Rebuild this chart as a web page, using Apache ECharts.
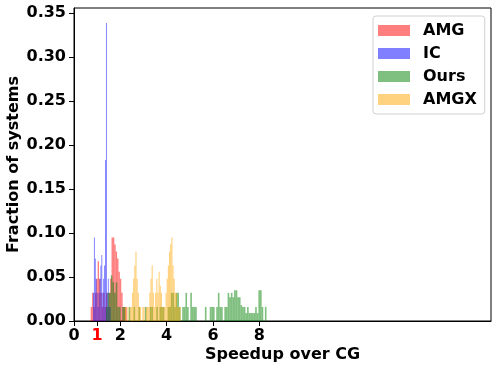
<!DOCTYPE html>
<html>
<head>
<meta charset="utf-8">
<script src="https://cdn.jsdelivr.net/npm/echarts@6/dist/echarts.min.js"></script>
<style>
  html, body { margin: 0; padding: 0; background: #fff; }
  #chart { width: 499px; height: 371px; }
</style>
</head>
<body>
<div id="chart"></div>
<script>
// histogram bins: first edge, bin width, fraction per bin
var amgStart = 0.72, amgWidth = 0.06;
var amgHeights = [0.016, 0.032, 0.016, 0.032, 0.048, 0.068, 0.048, 0.032, 0.016, 0.032, 0.016, 0.032, 0.016,
    0.032, 0.048, 0.095, 0.095, 0.087, 0.079, 0.071, 0.056, 0.048, 0.032, 0.016, 0.016, 0.016];

var icStart = 0.82, icWidth = 0.04;
var icHeights = [0.032, 0.095, 0.071, 0.048, 0.032, 0.016, 0.032, 0.048, 0.063, 0.075, 0.032, 0.048, 0.063,
    0.183, 0.339, 0.032, 0.048, 0.016, 0.016];

var oursStart = 1.38, oursWidth = 0.07;
var oursHeights = [0.016, 0.032, 0.032, 0.052, 0.044, 0.032, 0.044, 0.016, 0.016, 0, 0.016, 0.016, 0, 0,
    0.016, 0, 0, 0.016, 0, 0, 0.016, 0, 0, 0, 0.016, 0, 0, 0.016, 0.016, 0, 0, 0.016, 0, 0.016, 0.016, 0.016,
    0, 0, 0.016, 0.016, 0.032, 0.032, 0.016, 0.032, 0.032, 0.016, 0, 0.016, 0.016, 0.032, 0.016, 0, 0.032,
    0.016, 0.016, 0.016, 0, 0, 0, 0, 0, 0.016, 0, 0, 0.016, 0.016, 0.016, 0, 0.016, 0.032, 0.016, 0.016, 0,
    0.016, 0.016, 0.032, 0.027, 0.032, 0.027, 0.035, 0.035, 0.027, 0.027, 0.018, 0.016, 0.016, 0.009, 0.016,
    0.009, 0.009, 0.009, 0.009, 0.016, 0.009, 0.035, 0.035, 0.016, 0, 0.016, 0];

var amgxStart = 2.2, amgxWidth = 0.05;
var amgxHeights = [0.016, 0, 0.016, 0, 0.016, 0.016, 0.032, 0.048, 0.063, 0.079, 0.048, 0.032, 0.016, 0.016,
    0, 0.016, 0.016, 0, 0.016, 0.016, 0.016, 0.032, 0.048, 0.063, 0.032, 0.016, 0.032, 0.048, 0.032, 0.056,
    0.040, 0.032, 0.016, 0.016, 0.016, 0.032, 0.048, 0.063, 0.079, 0.088, 0.095, 0.063, 0.048, 0.032, 0.032,
    0.016, 0.016, 0.016];

var xTicks = [0, 1, 2, 4, 6, 8];
var yTicks = [0, 0.05, 0.1, 0.15, 0.2, 0.25, 0.3, 0.35];

var font = "DejaVu Sans";

function toBins(start, width, heights) {
    var out = [];
    heights.forEach(function (h, i) {
        if (h > 0) out.push([start + i * width, start + (i + 1) * width, h]);
    });
    return out;
}

function renderItem(params, api) {
    var p0 = api.coord([api.value(0), api.value(2)]);
    var p1 = api.coord([api.value(1), 0]);
    return {
        type: "rect",
        shape: { x: p0[0], y: p0[1], width: p1[0] - p0[0], height: p1[1] - p0[1] },
        style: api.style()
    };
}

function histSeries(name, color, data) {
    return {
        name: name,
        type: "custom",
        renderItem: renderItem,
        encode: { x: [0, 1], y: 2 },
        itemStyle: { color: color },
        data: data
    };
}

var chart = echarts.init(document.getElementById("chart"));
var option = {
    animation: false,
    textStyle: { fontFamily: font },
    grid: {
        left: 74, right: 8, top: 8, bottom: 50,
        outerBoundsMode: "none",
        show: true, borderColor: "#000", borderWidth: 1
    },
    legend: {
        left: 373, top: 16,
        orient: "vertical",
        icon: "rect",
        itemWidth: 32, itemHeight: 11, itemGap: 6,
        padding: [6, 8, 6, 5],
        borderColor: "#d0d0d0", borderWidth: 1, borderRadius: 3,
        textStyle: { fontFamily: font, fontWeight: "bold", fontSize: 16, color: "#000", padding: [0, 0, 0, 8], lineHeight: 17 },
        data: ["AMG", "IC", "Ours", "AMGX"]
    },
    xAxis: {
        type: "value",
        min: 0, max: 18,
        name: "Speedup over CG",
        nameLocation: "middle",
        nameGap: 26,
        nameMoveOverlap: false,
        nameTextStyle: { fontFamily: font, fontWeight: "bold", fontSize: 16, color: "#000" },
        splitLine: { show: false },
        axisLine: { lineStyle: { color: "#000", width: 1 } },
        axisTick: { length: 5, lineStyle: { color: "#000" }, customValues: xTicks },
        axisLabel: {
            customValues: xTicks,
            margin: 7,
            fontFamily: font, fontWeight: "bold", fontSize: 16, color: "#000",
            formatter: function (v) { return v === 1 ? "{red|1}" : String(v); },
            rich: { red: { color: "#ff0000", fontFamily: font, fontWeight: "bold", fontSize: 16 } }
        }
    },
    yAxis: {
        type: "value",
        min: 0, max: 0.356,
        name: "Fraction of systems",
        nameLocation: "middle",
        nameGap: 52,
        nameMoveOverlap: false,
        nameTextStyle: { fontFamily: font, fontWeight: "bold", fontSize: 16, color: "#000" },
        splitLine: { show: false },
        axisLine: { show: true, lineStyle: { color: "#000", width: 1 } },
        axisTick: { show: true, length: 5, lineStyle: { color: "#000" }, customValues: yTicks },
        axisLabel: {
            customValues: yTicks,
            margin: 8,
            fontFamily: font, fontWeight: "bold", fontSize: 16, color: "#000",
            formatter: function (v) { return v.toFixed(2); }
        }
    },
    series: [
        histSeries("AMG", "rgba(255,0,0,0.5)", toBins(amgStart, amgWidth, amgHeights)),
        histSeries("IC", "rgba(0,0,255,0.5)", toBins(icStart, icWidth, icHeights)),
        histSeries("Ours", "rgba(0,128,0,0.5)", toBins(oursStart, oursWidth, oursHeights)),
        histSeries("AMGX", "rgba(255,165,0,0.5)", toBins(amgxStart, amgxWidth, amgxHeights))
    ]
};
chart.setOption(option);
</script>
</body>
</html>
